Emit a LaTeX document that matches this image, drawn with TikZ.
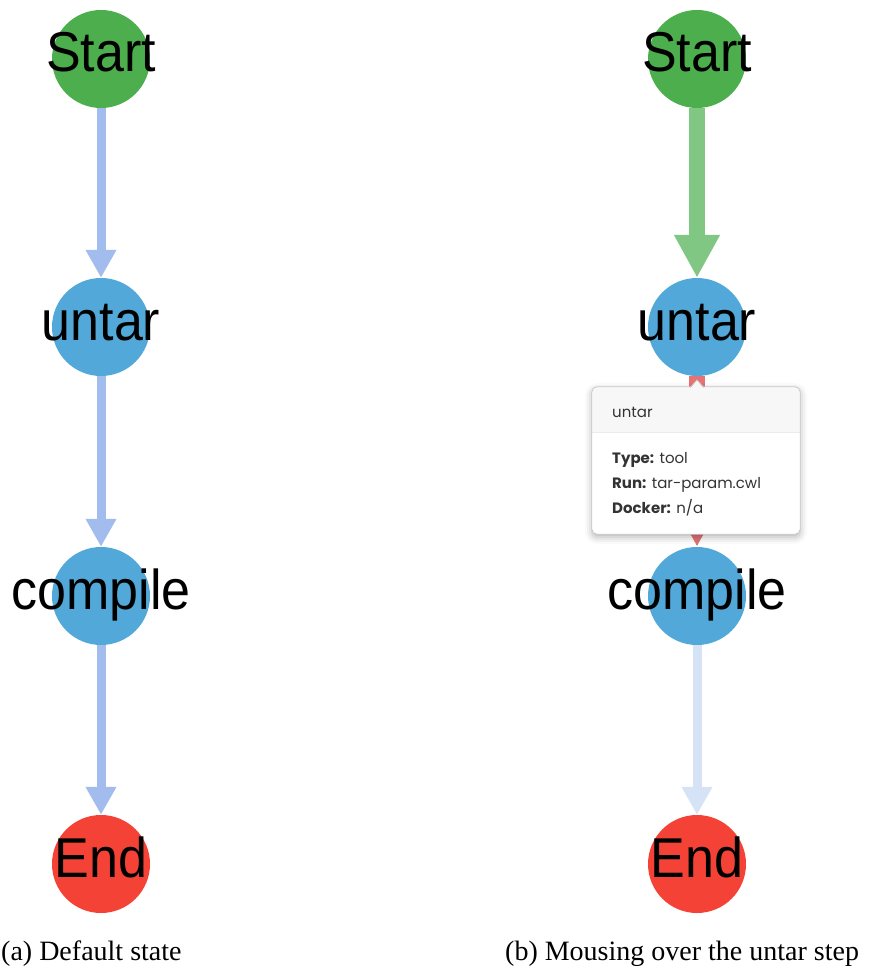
\documentclass[tikz,border=0pt]{standalone}
\usepackage{fontspec}
\setmainfont{Liberation Serif}
\newfontfamily\nodefont{Liberation Sans}
\newfontfamily\tipfont{Poppins}
\usetikzlibrary{arrows.meta,shadows.blur}

\definecolor{startgreen}{HTML}{4CAE4C}
\definecolor{stepblue}{HTML}{52A9D9}
\definecolor{endred}{HTML}{F44336}
\definecolor{flowblue}{HTML}{A3BCEE}
\definecolor{fadeblue}{HTML}{D6E2F6}
\definecolor{ingreen}{HTML}{81C784}
\definecolor{outred}{HTML}{E57373}
\definecolor{tipborder}{HTML}{CACACA}
\definecolor{tiphead}{HTML}{F7F7F7}
\definecolor{tipsep}{HTML}{EBEBEB}
\definecolor{tiptext}{HTML}{333333}

\begin{document}
\begin{tikzpicture}[x=1pt,y=-1pt,
  stepnode/.style={circle, minimum size=98pt, inner sep=0pt, draw=none},
  steplabel/.style={anchor=base, inner sep=0pt, font=\nodefont\fontsize{52}{52}\selectfont},
  flow/.style={line width=9pt, -{Triangle[width=29pt,length=28pt]}},
  flowbold/.style={line width=16pt, -{Triangle[width=43pt,length=43pt]}},
  tipbox/.style={rectangle, minimum width=208pt, minimum height=147pt, inner sep=0pt,
    rounded corners=5pt, fill=white,
    blur shadow={shadow xshift=0pt, shadow yshift=-3pt, shadow blur radius=7pt, shadow opacity=30}},
  tiptitle/.style={anchor=base west, inner sep=0pt, text=tiptext, font=\tipfont\fontsize{15}{15}\selectfont},
  tipline/.style={anchor=base west, inner sep=0pt, text=tiptext, font=\tipfont\fontsize{15}{15}\selectfont},
  capt/.style={anchor=base west, inner sep=0pt, font=\fontsize{28}{28}\selectfont}
]
\useasboundingbox (0,0) rectangle (877,968);

% (a) default state
\node[stepnode, fill=startgreen] (s1) at (101,59) {};
\node[stepnode, fill=stepblue]   (u1) at (101,327) {};
\node[stepnode, fill=stepblue]   (c1) at (101,596) {};
\node[stepnode, fill=endred]     (e1) at (101,864) {};

% (b) hovering over untar
\node[stepnode, fill=startgreen] (s2) at (697,59) {};
\node[stepnode, fill=stepblue]   (u2) at (697,327) {};
\node[stepnode, fill=stepblue]   (c2) at (697,596) {};
\node[stepnode, fill=endred]     (e2) at (697,864) {};

% connectors, from the bottom of one circle to the top of the next
\draw[flow, flowblue] (s1.south) -- (u1.north);
\draw[flow, flowblue] (u1.south) -- (c1.north);
\draw[flow, flowblue] (c1.south) -- (e1.north);
\draw[flowbold, ingreen] (s2.south) -- (u2.north);
\draw[flowbold, outred] (u2.south) -- (c2.north);
\draw[flow, fadeblue] (c2.south) -- (e2.north);

% step names
\foreach \n/\t in {s1/Start, u1/untar, c1/compile, e1/End, s2/Start, u2/untar, c2/compile, e2/End}
  \node[steplabel] (\n-text) at ([yshift=-13pt]\n.center) {\scalebox{1}[1.08]{\t}};

% tooltip
\node[tipbox] (tip) at (696,460.5) {};
\begin{scope}
  \clip[rounded corners=5pt] (tip.north west) rectangle (tip.south east);
  \fill[tiphead] (tip.north west) rectangle ([yshift=-46pt]tip.north east);
  \draw[tipsep, line width=0.8pt] ([yshift=-46pt]tip.north west) -- ([yshift=-46pt]tip.north east);
\end{scope}
\draw[tipborder, line width=0.8pt, rounded corners=5pt] (tip.north west) rectangle (tip.south east);
\coordinate (caretL) at (690,387.6);
\coordinate (caretT) at (697,380);
\coordinate (caretR) at (704,387.6);
\fill[tiphead] ([yshift=-1pt]caretL) -- (caretT) -- ([yshift=-1pt]caretR) -- cycle;
\draw[tipborder, line width=0.8pt, line join=round] (caretL) -- (caretT) -- (caretR);

\node[tiptitle] (tip-title) at (612,417) {untar};
\node[tipline] (tip-type) at (612,463) {\textbf{Type:} tool};
\node[tipline] (tip-run) at (612,488) {\textbf{Run:} tar-param.cwl};
\node[tipline] (tip-docker) at (612,513) {\textbf{Docker:} n/a};

% captions
\node[capt] (cap-a) at (1,960) {(a) Default state};
\node[capt] (cap-b) at (505,960) {(b) Mousing over the untar step};
\end{tikzpicture}
\end{document}
